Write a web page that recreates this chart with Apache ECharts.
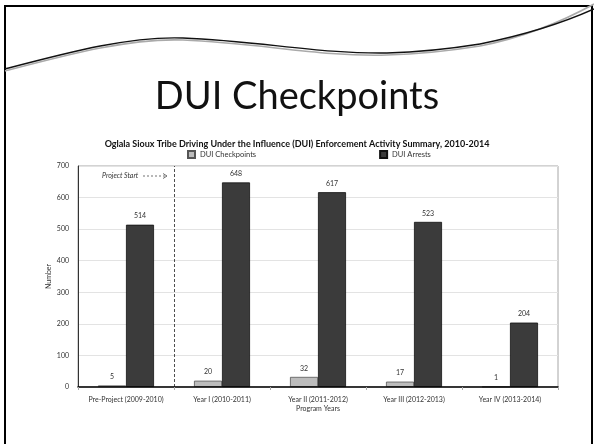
<!DOCTYPE html>
<html>
<head>
<meta charset="utf-8">
<script src="https://cdn.jsdelivr.net/npm/echarts@6/dist/echarts.min.js"></script>
<style>
html,body{margin:0;padding:0;background:#fff;}
#c{width:594px;height:444px;}
</style>
</head>
<body>
<div id="c"></div>
<script>
var categories = ['Pre-Project (2009-2010)', 'Year I (2010-2011)', 'Year II (2011-2012)\nProgram Years', 'Year III (2012-2013)', 'Year IV (2013-2014)'];
var checkpoints = [5, 20, 32, 17, 1];
var arrests = [514, 648, 617, 523, 204];
var yTicks = [0, 100, 200, 300, 400, 500, 600, 700];
var projectStartBoundary = 1;

var FONT = 'Lato, "Open Sans", sans-serif';

function swoosh(pts, color, width) {
  return pts.map(function (p) {
    return {type: 'bezierCurve', silent: true,
      shape: {x1: p[0], y1: p[1], cpx1: p[2], cpy1: p[3], cpx2: p[4], cpy2: p[5], x2: p[6], y2: p[7]},
      style: {fill: 'none', stroke: color, lineWidth: width}};
  });
}
var grayCurve = swoosh([
  [5, 71, 70, 54, 130, 38, 183, 40],
  [183, 40, 260, 43, 320, 57, 387, 55],
  [387, 55, 425, 54, 455, 50, 480, 46],
  [480, 46, 530, 36, 565, 20, 594, 4]
], '#aaa', 1.6);
var blackCurve = swoosh([
  [5, 69, 70, 52, 130, 36, 183, 38],
  [183, 38, 260, 41, 320, 54, 387, 53],
  [387, 53, 425, 52, 455, 48, 480, 44],
  [480, 44, 530, 34, 565, 22, 594, 9]
], '#111', 1.4);

var chart = echarts.init(document.getElementById('c'), null, {renderer: 'canvas'});
chart.setOption({
  backgroundColor: '#fff',
  animation: false,
  textStyle: {fontFamily: FONT},
  title: {
    text: 'Oglala Sioux Tribe Driving Under the Influence (DUI) Enforcement Activity Summary, 2010-2014',
    left: 'center', top: 135,
    textStyle: {fontSize: 9, fontWeight: 'bold', color: '#111', fontFamily: FONT}
  },
  legend: {
    left: 182, top: 145, itemWidth: 7, itemHeight: 7, itemGap: 123,
    icon: 'rect',
    textStyle: {fontSize: 7.5, color: '#333', fontFamily: FONT},
    data: ['DUI Checkpoints', 'DUI Arrests']
  },
  grid: {left: 78, right: 36, top: 166, bottom: 57, show: true, borderColor: '#a6a6a6', borderWidth: 1},
  xAxis: [{
    type: 'category', data: categories,
    axisLine: {lineStyle: {color: '#000', width: 1.5}},
    axisTick: {show: true, lineStyle: {color: '#aaa'}, length: 3},
    axisLabel: {interval: 0, fontSize: 7, color: '#333', margin: 8, lineHeight: 9, fontFamily: FONT},
    z: 10
  }, {
    type: 'value', min: 0, max: 5, show: false
  }],
  yAxis: {
    type: 'value', min: 0, max: 700, interval: 100,
    name: 'Number', nameLocation: 'middle', nameGap: 26, nameRotate: 90, nameMoveOverlap: false,
    nameTextStyle: {fontSize: 7, color: '#333', fontFamily: FONT},
    axisLine: {show: true, lineStyle: {color: '#333', width: 1}},
    axisTick: {show: false},
    axisLabel: {fontSize: 7, color: '#333', margin: 9, fontFamily: FONT,
      formatter: function (v) { return yTicks.indexOf(v) >= 0 ? String(v) : ''; }},
    splitLine: {lineStyle: {color: '#e3e3e3', width: 1}}
  },
  series: [{
    name: 'DUI Checkpoints', type: 'bar', data: checkpoints, barWidth: 28, barGap: '0%',
    itemStyle: {color: '#bcbcbc', borderColor: '#555', borderWidth: 0.8},
    label: {show: true, position: 'top', distance: 5, fontSize: 7, color: '#333', fontFamily: FONT}
  }, {
    name: 'DUI Arrests', type: 'bar', data: arrests, barWidth: 28,
    itemStyle: {color: '#3b3b3b', borderColor: '#111', borderWidth: 0.8},
    label: {show: true, position: 'top', distance: 5, fontSize: 7, color: '#333', fontFamily: FONT}
  }, {
    name: 'boundary', type: 'line', xAxisIndex: 1, data: [],
    markLine: {
      silent: true, symbol: ['none', 'none'], label: {show: false},
      lineStyle: {color: '#222', type: [3, 2], width: 0.8},
      data: [{xAxis: projectStartBoundary}]
    }
  }],
  graphic: [
    {type: 'rect', silent: true, shape: {x: 5, y: 6, width: 587, height: 450}, style: {fill: 'none', stroke: '#000', lineWidth: 2}}
  ].concat(grayCurve).concat(blackCurve).concat([
    {type: 'text', left: 'center', top: 78,
      style: {text: 'DUI Checkpoints', fontSize: 38, fontFamily: FONT, fill: '#111'}},
    {type: 'text', x: 102, y: 172,
      style: {text: 'Project Start', fontSize: 7, fontStyle: 'italic', fontFamily: FONT, fill: '#333'}},
    {type: 'line', shape: {x1: 143, y1: 176, x2: 167, y2: 176}, style: {stroke: '#333', lineWidth: 0.7, lineDash: [2, 2]}},
    {type: 'polyline', shape: {points: [[163, 173.5], [167, 176], [163, 178.5]]}, style: {stroke: '#333', lineWidth: 0.7, fill: 'none'}}
  ])
});
</script>
</body>
</html>
